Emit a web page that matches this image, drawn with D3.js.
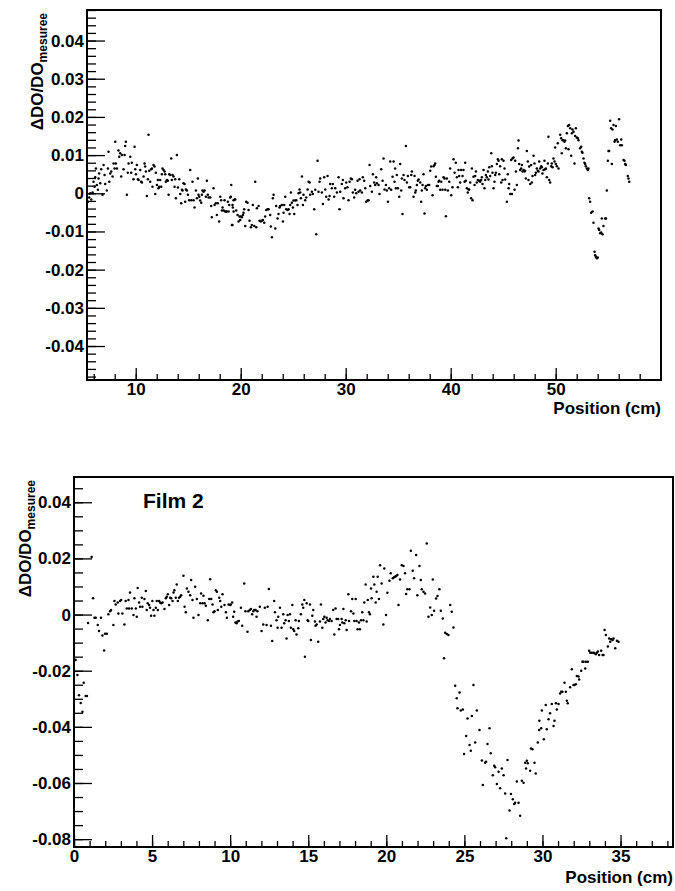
<!DOCTYPE html>
<html><head><meta charset="utf-8">
<script src="https://cdn.jsdelivr.net/npm/d3@7/dist/d3.min.js"></script>
<style>
html,body{margin:0;padding:0;background:#fff;}
svg{display:block;}
text{font-family:"Liberation Sans",Arial,Helvetica,sans-serif;font-weight:bold;fill:#000;}
</style></head>
<body>
<svg id="chart" width="675" height="891"></svg>
<script>
// ---------- DATA ----------
const film1Points = [
[5.44,-0.0022],[5.57,-0.0011],[5.76,-0.0016],[5.67,0.0000],[5.89,0.0002],[5.98,0.0030],[6.08,0.0017],[6.14,0.0042],[6.30,0.0022],[6.40,0.0009],[6.46,0.0039],[6.21,0.0065],[6.52,0.0052],[6.62,0.0026],[6.71,0.0063],[6.84,-0.0004],[6.94,0.0074],[7.03,0.0048],[7.09,0.0024],[7.25,0.0007],[7.35,0.0065],[7.41,0.0109],[7.48,0.0030],[7.57,0.0052],[7.67,0.0057],[7.79,0.0044],[7.89,0.0078],[7.98,0.0065],[8.05,0.0135],[8.11,0.0078],[8.21,0.0065],[8.36,0.0112],[8.43,0.0096],[8.52,0.0105],[8.62,0.0044],[8.68,0.0100],[8.84,0.0063],[8.94,0.0100],[9.0,0.0124],[9.06,0.0135],[9.16,-0.0004],[9.25,0.0054],[9.32,0.0078],[9.48,0.0096],[9.57,0.0054],[9.63,0.0080],[9.79,0.0037],[9.89,0.0122],[9.95,0.0063],[10.02,0.0050],[10.11,0.0074],[10.21,0.0037],[10.27,0.0035],[10.43,0.0061],[10.52,0.0030],[10.59,0.0028],[10.75,0.0044],[10.84,0.0078],[10.90,0.0070],[10.97,0.0057],[11.06,-0.0007],[11.16,0.0037],[11.22,0.0153],[11.29,0.0059],[11.38,0.0030],[11.48,0.0063],[11.54,0.0065],[11.60,0.0017],[11.70,0.0074],[11.79,0.0070],[11.86,-0.0002],[11.92,0.0054],[12.02,0.0022],[12.11,0.0035],[12.17,0.0013],[12.24,0.0017],[12.33,0.0035],[12.43,0.0017],[12.49,0.0050],[12.55,0.0065],[12.65,0.0061],[12.75,0.0057],[12.81,0.0050],[12.87,0.0030],[12.97,0.0035],[13.06,0.0033],[13.13,-0.0004],[13.19,0.0050],[13.29,0.0048],[13.38,0.0091],[13.44,0.0035],[13.51,0.0048],[13.60,0.0044],[13.70,0.0017],[13.76,0.0037],[13.83,-0.0013],[13.92,0.0100],[14.02,0.0015],[14.14,0.0037],[14.24,-0.0002],[14.33,-0.0026],[14.40,0.0009],[14.46,0.0007],[14.55,0.0026],[14.65,0.0024],[14.71,-0.0022],[14.78,0.0010],[14.87,0.0007],[14.97,-0.0004],[15.09,-0.0018],[15.19,0.0061],[15.29,-0.0018],[15.41,0.0030],[15.51,-0.0018],[15.60,-0.0037],[15.73,0.0007],[15.83,-0.0013],[15.92,0.0039],[15.98,-0.0004],[16.05,-0.0009],[16.14,-0.0019],[16.24,-0.0025],[16.30,-0.0004],[16.36,0.0007],[16.46,0.0004],[16.56,0.0007],[16.68,-0.0009],[16.78,0.0033],[16.87,-0.0004],[16.94,-0.0011],[17.10,-0.0011],[17.19,-0.0033],[17.25,-0.0063],[17.41,0.0013],[17.51,-0.0031],[17.63,-0.0026],[17.73,-0.0057],[17.82,-0.0026],[17.95,-0.0074],[18.05,-0.0009],[18.14,-0.0018],[18.21,-0.0045],[18.27,-0.0037],[18.37,-0.0045],[18.46,-0.0018],[18.52,-0.0048],[18.59,-0.0048],[18.68,-0.0048],[18.78,-0.0022],[18.84,-0.0048],[18.90,-0.0031],[19.0,-0.0011],[19.10,0.0022],[19.16,-0.0083],[19.22,-0.0031],[19.32,-0.0018],[19.41,-0.0016],
[19.06,-0.0009],[19.25,-0.0037],[19.48,-0.0016],[19.32,-0.0048],[19.57,-0.0045],[19.70,-0.0057],[19.22,-0.0083],[19.79,-0.0074],[19.89,-0.0061],[19.95,-0.0070],[20.02,-0.0061],[20.11,-0.0063],[20.21,-0.0057],[20.27,-0.0051],[20.33,-0.0042],[20.43,-0.0086],[20.52,-0.0022],[20.65,-0.0025],[20.75,-0.0044],[20.84,-0.0072],[20.97,-0.0089],[21.06,-0.0083],[21.16,-0.0031],[21.29,-0.0086],[21.38,0.0030],[21.48,-0.0089],[21.54,-0.0039],[21.70,-0.0033],[21.79,-0.0072],[21.92,-0.0074],[22.02,-0.0072],[22.11,-0.0070],[22.24,-0.0077],[22.33,-0.0061],[22.43,-0.0044],[22.56,-0.0042],[22.65,-0.0042],[22.81,-0.0057],[22.87,-0.0087],[22.97,-0.0115],[23.06,-0.0013],[23.13,-0.0004],[23.29,-0.0092],[23.38,-0.0033],[23.51,-0.0066],[23.60,-0.0054],[23.70,-0.0037],[23.76,-0.0033],[23.92,-0.0031],[24.02,-0.0074],[24.08,-0.0051],[24.14,-0.0031],[24.24,-0.0009],[24.33,-0.0042],[24.46,-0.0044],[24.56,-0.0042],[24.65,-0.0054],[24.71,-0.0031],[24.78,0.0002],[24.87,-0.0025],[24.97,-0.0037],[25.03,-0.0019],[25.10,-0.0054],[25.19,-0.0019],[25.29,-0.0018],[25.41,-0.0031],[25.51,0.0000],[25.60,0.0010],[25.67,0.0002],[25.73,-0.0013],[25.83,0.0044],[25.92,-0.0031],[25.98,-0.0004],[26.14,-0.0018],[26.24,-0.0011],[26.37,0.0010],[26.46,0.0030],[26.56,0.0028],[26.62,-0.0004],[26.78,0.0004],[26.87,-0.0002],[27.0,-0.0042],[27.10,0.0009],[27.19,-0.0107],[27.32,0.0085],[27.41,0.0004],[27.51,0.0030],[27.57,0.0039],[27.73,0.0002],[27.83,-0.0028],[27.95,0.0042],[28.05,0.0010],[28.14,-0.0009],[28.27,0.0045],[28.37,-0.0016],[28.46,-0.0007],[28.52,0.0024],[28.68,0.0013],[28.78,0.0024],[28.90,-0.0009],[29.0,0.0013],[29.16,0.0002],[29.32,0.0042],[29.41,-0.0042],[29.48,0.0004],[29.63,0.0024],[29.73,0.0035],[29.79,-0.0013],[29.95,0.0013],[30.05,0.0028],[30.17,0.0016],[30.27,-0.0018],[30.37,0.0030],[30.49,0.0039],[30.59,0.0037],[30.68,0.0002],[30.81,-0.0011],[30.90,0.0009],[31.0,0.0000],[31.13,0.0033],[31.22,0.0004],[31.32,0.0037],[31.38,0.0007],[31.54,0.0002],[31.63,0.0042],[31.76,0.0033],[31.86,0.0013],[31.95,-0.0022],[32.08,-0.0019],[32.17,-0.0018],[32.27,0.0074],[32.33,0.0019],[32.49,0.0004],[32.59,0.0050],[32.71,0.0028],[32.81,0.0022],[32.90,0.0042],[32.97,0.0026],[33.13,0.0022],[33.22,-0.0002],
[33.38,0.0063],[33.51,0.0033],[33.60,0.0091],[33.70,0.0010],[33.83,0.0022],[33.92,0.0007],[34.02,-0.0022],[34.14,0.0013],[34.24,0.0083],[34.33,0.0009],[34.46,0.0043],[34.56,0.0083],[34.65,0.0030],[34.71,0.0065],[34.78,0.0013],[34.87,0.0048],[34.97,0.0013],[35.10,-0.0009],[35.19,0.0077],[35.29,0.0007],[35.35,0.0039],[35.41,-0.0054],[35.51,0.0048],[35.60,0.0035],[35.73,0.0124],[35.83,0.0028],[35.92,0.0045],[36.05,0.0016],[36.14,0.0016],[36.24,0.0048],[36.30,0.0057],[36.46,-0.0009],[36.56,0.0045],[36.62,0.0002],[36.68,0.0007],[36.78,0.0022],[36.87,0.0033],[36.94,0.0036],[37.10,0.0028],[37.19,-0.0022],[37.25,0.0007],[37.32,0.0022],[37.41,0.0050],[37.51,-0.0053],[37.57,0.0013],[37.63,0.0019],[37.73,0.0009],[37.83,0.0022],[37.95,0.0022],[38.05,0.0059],[38.14,0.0070],[38.27,-0.0005],[38.37,0.0071],[38.46,0.0074],[38.52,0.0078],[38.59,0.0043],[38.68,0.0019],[38.78,0.0019],[38.84,0.0030],[38.90,0.0033],[39.0,0.0009],[39.10,0.0030],[39.22,0.0009],[39.32,0.0042],[39.41,0.0039],[39.48,0.0009],[39.54,-0.0060],[39.63,0.0039],[39.73,0.0007],[39.86,0.0030],[39.95,0.0065],[40.05,-0.0005],[40.17,0.0016],[40.27,0.0089],[40.37,0.0054],[40.49,0.0080],[40.59,0.0042],[40.68,0.0016],[40.75,0.0061],[40.81,0.0045],[40.90,0.0028],[41.0,0.0061],[41.13,0.0045],[41.22,0.0061],[41.32,0.0030],[41.38,0.0080],[41.44,0.0033],[41.54,0.0013],[41.63,0.0002],[41.70,0.0010],[41.76,0.0010],[41.86,0.0028],[41.95,-0.0013],[42.02,0.0065],[42.08,-0.0018],[42.17,0.0043],[42.27,0.0022],[42.33,0.0045],[42.40,0.0057],[42.49,0.0028],[42.59,0.0035],[42.71,0.0033],[42.81,0.0030],[42.90,0.0035],[42.97,0.0042],[43.03,0.0024],[43.13,0.0061],[43.22,0.0013],[43.29,0.0035],[43.35,0.0048],[43.44,0.0042],[43.54,0.0057],[43.60,0.0036],[43.67,0.0068],[43.76,0.0045],[43.86,0.0105],[43.92,0.0071],[43.98,0.0054],[44.08,0.0013],[44.17,0.0030],[44.24,0.0048],[44.30,0.0054],[44.40,0.0077],[44.49,0.0089],[44.56,0.0085],[44.62,0.0050],[44.71,0.0071],[44.81,0.0028],[44.87,0.0089],[44.94,0.0035],[45.03,0.0085],[45.13,0.0065],[45.19,0.0036],[45.35,-0.0022],[45.44,0.0050],[45.51,0.0013],[45.57,0.0024],[45.67,-0.0002],[45.76,0.0087],[45.83,-0.0002],[45.89,0.0091],[45.98,0.0094],[46.08,0.0009],[46.14,0.0085],[46.21,0.0057],[46.30,0.0022],[46.40,0.0118],[46.46,0.0138],[46.52,0.0077],[46.62,0.0061],[46.71,0.0065],[46.78,0.0074],[46.84,0.0057],[46.94,0.0061],[47.03,0.0057],
[47.09,0.0059],[47.16,0.0039],[47.25,0.0111],[47.35,0.0083],[47.41,0.0035],[47.47,0.0070],[47.57,0.0024],[47.66,0.0074],[47.73,0.0028],[47.79,0.0045],[47.89,0.0098],[47.98,0.0078],[48.04,0.0048],[48.11,0.0054],[48.20,0.0065],[48.30,0.0059],[48.36,0.0057],[48.43,0.0083],[48.52,0.0065],[48.62,0.0071],[48.68,0.0068],[48.74,0.0052],[48.84,0.0061],[48.93,0.0085],[49.0,0.0063],[49.06,0.0065],[49.16,0.0042],[49.25,0.0078],[49.31,0.0148],[49.38,0.0035],[49.47,0.0028],[49.57,0.0071],[49.63,0.0078],[49.70,0.0068],[49.79,0.0091],[49.89,0.0083],[49.95,0.0120],[50.01,0.0077],[50.11,0.0071],[50.20,0.0131],[50.27,0.0065],[50.43,0.0153],[50.52,0.0144],[50.58,0.0105],[50.65,0.0139],[50.74,0.0139],[50.84,0.0135],[50.90,0.0138],[50.97,0.0118],[51.06,0.0157],[51.16,0.0176],[51.22,0.0115],[51.28,0.0179],[51.38,0.0170],[51.47,0.0098],[51.54,0.0157],[51.60,0.0167],[51.70,0.0161],[51.79,0.0078],[51.85,0.0150],[51.92,0.0170],[52.01,0.0146],[52.11,0.0144],[52.17,0.0139],[52.33,0.0118],[52.43,0.0122],[52.49,0.0109],[52.55,0.0106],[52.65,0.0091],[52.74,0.0080],[52.81,0.0077],[52.87,0.0071],[52.97,0.0065],[53.06,0.0061],[53.12,0.0065],[53.19,-0.0013],[53.28,-0.0022],[53.38,-0.0051],[53.51,-0.0048],[53.60,-0.0077],[53.70,-0.0153],[53.76,-0.0162],[53.82,-0.0166],[53.92,-0.0170],[54.01,-0.0168],[54.08,-0.0092],[54.14,-0.0096],[54.24,-0.0105],[54.33,-0.0103],[54.39,-0.0066],[54.46,-0.0107],[54.55,-0.0086],[54.71,-0.0066],[54.78,-0.0066],[54.87,0.0007],[54.97,0.0085],[55.03,0.0111],[55.09,0.0111],[55.19,0.0190],[55.28,0.0170],[55.35,0.0077],[55.41,0.0167],[55.50,0.0179],[55.60,0.0135],[55.66,0.0139],[55.73,0.0176],[55.82,0.0141],[55.92,0.0135],[56.04,0.0194],[56.14,0.0126],[56.24,0.0141],[56.30,0.0126],[56.46,0.0087],[56.55,0.0085],[56.62,0.0077],[56.68,0.0074],[56.87,0.0045],[56.93,0.0039],[57.0,0.0030]
];

const film2Points = [
[0.11,-0.0162],[0.22,-0.0215],[0.32,-0.0287],[0.43,-0.0315],[0.54,-0.0346],[0.62,-0.0243],[0.75,-0.0290],[0.83,-0.0290],[0.90,-0.0030],[1.13,0.0205],[1.22,0.0058],
[1.31,-0.0011],[1.39,-0.0011],[1.52,-0.0037],[1.60,-0.0059],[1.73,-0.0011],[1.82,-0.0075],[1.93,-0.0128],[1.99,-0.0068],[2.10,-0.0068],[2.20,0.0001],[2.31,0.0012],[2.37,0.0016],[2.52,-0.0037],[2.59,0.0048],[2.67,0.0036],[2.80,0.0043],[2.84,0.0004],[2.95,0.0048],[3.02,0.0052],[3.10,0.0004],[3.23,-0.0035],[3.31,0.0048],[3.38,0.0022],[3.49,0.0052],[3.53,0.0022],[3.59,0.0079],[3.70,0.0022],[3.81,-0.0002],[3.87,0.0058],[3.96,0.0022],[4.02,-0.0008],[4.08,0.0095],[4.17,0.0043],[4.23,0.0028],[4.34,0.0060],[4.38,0.0028],[4.51,0.0055],[4.60,0.0084],[4.66,0.0016],[4.72,0.0040],[4.81,0.0034],[4.87,0.0024],[4.94,-0.0004],[5.02,0.0048],[5.09,0.0016],[5.15,-0.0004],[5.24,0.0024],[5.30,0.0048],[5.37,0.0016],[5.45,0.0048],[5.52,0.0043],[5.58,0.0040],[5.67,0.0043],[5.79,0.0020],[5.88,0.0058],[5.94,0.0063],[6.01,0.0072],[6.09,0.0034],[6.16,0.0060],[6.22,0.0058],[6.31,0.0048],[6.37,0.0079],[6.43,0.0087],[6.52,0.0060],[6.58,0.0107],[6.65,0.0048],[6.73,0.0060],[6.80,0.0063],[6.86,0.0069],[7.01,0.0138],[7.08,0.0028],[7.16,0.0008],[7.23,0.0093],[7.33,0.0081],[7.44,0.0069],[7.50,0.0123],[7.59,0.0052],[7.65,-0.0011],[7.76,0.0099],[7.87,0.0055],[7.97,-0.0002],[8.08,0.0040],[8.14,0.0075],[8.23,0.0040],[8.29,0.0067],[8.36,0.0040],[8.44,0.0031],[8.57,-0.0020],[8.66,0.0055],[8.72,0.0126],[8.79,0.0055],[8.87,0.0036],[8.93,0.0008],[9.0,0.0012],[9.08,0.0087],[9.15,0.0081],[9.21,0.0016],[9.30,0.0060],[9.36,0.0048],[9.43,0.0028],[9.51,0.0072],[9.64,0.0034],[9.73,0.0008],[9.79,-0.0011],[9.90,0.0036],[10.0,0.0034],
[10.04,0.0036],[10.13,0.0043],[10.19,-0.0008],[10.26,0.0010],[10.34,-0.0028],[10.41,-0.0031],[10.47,-0.0025],[10.56,-0.0023],[10.69,0.0024],[10.77,-0.0040],[10.90,0.0111],[10.98,0.0012],[11.11,-0.0061],[11.16,0.0012],[11.26,0.0016],[11.33,0.0020],[11.41,0.0001],[11.48,0.0012],[11.54,0.0016],[11.63,0.0016],[11.69,-0.0008],[11.75,0.0012],[11.90,0.0028],[12.01,-0.0059],[12.12,-0.0035],[12.22,0.0024],[12.33,-0.0037],[12.40,0.0028],[12.48,0.0091],[12.61,-0.0040],[12.69,-0.0094],[12.82,0.0048],[12.87,0.0008],[12.97,-0.0020],[13.04,-0.0047],[13.08,-0.0008],[13.19,0.0024],[13.29,-0.0047],[13.40,0.0001],[13.46,-0.0031],[13.55,-0.0020],[13.61,-0.0085],[13.68,-0.0002],[13.76,-0.0023],[13.83,0.0001],[13.89,-0.0047],[13.98,0.0034],[14.04,-0.0052],[14.10,-0.0059],[14.19,-0.0020],[14.25,-0.0071],[14.36,-0.0049],[14.40,-0.0023],[14.53,0.0001],[14.62,0.0036],[14.68,0.0024],[14.75,0.0052],[14.79,-0.0150],[14.90,0.0040],[14.96,-0.0020],[15.0,-0.0023],[15.11,0.0036],[15.17,-0.0091],[15.26,-0.0004],[15.32,0.0016],[15.43,-0.0025],[15.47,-0.0040],[15.54,-0.0035],[15.64,-0.0097],[15.75,-0.0025],[15.81,0.0036],[15.90,-0.0047],[15.96,-0.0016],[16.03,-0.0008],[16.11,-0.0028],[16.18,-0.0011],[16.24,-0.0020],[16.33,-0.0023],[16.39,-0.0016],[16.50,-0.0023],[16.60,0.0016],[16.67,-0.0071],[16.75,0.0022],[16.82,-0.0016],[16.92,-0.0016],[16.97,-0.0052],[17.03,-0.0037],[17.14,-0.0016],[17.18,-0.0028],[17.25,0.0020],[17.31,-0.0031],[17.40,-0.0020],[17.46,-0.0055],[17.57,0.0072],[17.61,-0.0023],[17.74,0.0012],[17.82,0.0055],[17.89,0.0004],[17.95,-0.0023],[18.04,0.0055],[18.10,-0.0023],[18.16,-0.0052],[18.25,-0.0028],[18.31,-0.0052],[18.38,-0.0020],[18.46,0.0008],[18.53,-0.0020],[18.59,0.0043],[18.68,0.0107],[18.74,-0.0025],[18.81,0.0052],[18.89,0.0008],[18.95,0.0001],[19.02,0.0093],[19.06,0.0058],[19.17,0.0135],[19.23,0.0107],[19.32,0.0043],[19.38,0.0081],[19.45,0.0135],[19.53,0.0055],[19.60,0.0176],[19.70,0.0111],[19.81,-0.0035],[19.87,0.0164],
[19.98,-0.0002],[20.07,0.0078],[20.20,0.0120],[20.28,0.0147],[20.41,0.0129],[20.50,0.0133],[20.56,0.0135],[20.63,0.0137],[20.71,0.0141],[20.78,0.0034],[20.88,0.0125],[20.99,0.0176],[21.10,0.0173],[21.20,0.0147],[21.27,0.0073],[21.35,0.0090],[21.48,0.0090],[21.57,0.0227],[21.69,0.0156],[21.78,0.0129],[21.91,0.0212],[21.99,0.0069],[22.12,0.0173],[22.21,0.0123],[22.27,0.0090],[22.38,0.0081],[22.48,0.0075],[22.59,0.0253],[22.70,-0.0008],[22.81,0.0025],[22.91,-0.0002],[22.98,0.0125],[23.06,0.0014],[23.19,0.0057],[23.28,0.0066],[23.40,0.0090],[23.49,0.0014],[23.62,-0.0014],[23.70,-0.0156],[23.77,-0.0065],[23.87,-0.0069],[23.98,-0.0073],[24.09,0.0034],[24.19,0.0010],[24.30,-0.0046],[24.41,-0.0254],[24.51,-0.0298],[24.56,-0.0334],[24.69,-0.0278],[24.77,-0.0342],[24.90,-0.0338],[24.98,-0.0497],[25.11,-0.0433],[25.20,-0.0370],[25.33,-0.0465],[25.41,-0.0485],[25.48,-0.0361],[25.58,-0.0251],[25.69,-0.0456],[25.80,-0.0342],[25.97,-0.0411],[26.12,-0.0520],[26.18,-0.0607],[26.33,-0.0528],[26.39,-0.0524],[26.48,-0.0461],[26.61,-0.0405],[26.69,-0.0494],[26.82,-0.0572],[26.91,-0.0539],[26.97,-0.0544],[27.08,-0.0604],[27.19,-0.0560],[27.29,-0.0619],[27.40,-0.0548],[27.51,-0.0572],[27.61,-0.0637],[27.68,-0.0797],[27.76,-0.0518],[27.89,-0.0698],[27.98,-0.0639],[28.10,-0.0658],[28.19,-0.0675],[28.25,-0.0670],[28.36,-0.0595],[28.47,-0.0670],[28.57,-0.0717],[28.68,-0.0592],[28.79,-0.0599],
[28.89,-0.0528],[29.0,-0.0521],[29.06,-0.0530],[28.95,-0.0548],[29.21,-0.0556],[29.49,-0.0528],[29.57,-0.0566],[29.27,-0.0477],[29.36,-0.0480],[29.70,-0.0456],[29.79,-0.0411],[29.92,-0.0405],[30.09,-0.0444],[30.28,-0.0409],[29.80,-0.0378],[29.96,-0.0342],[30.21,-0.0322],[30.39,-0.0373],[30.49,-0.0352],[30.60,-0.0319],[30.71,-0.0397],[30.77,-0.0378],[30.86,-0.0316],[30.92,-0.0338],[31.03,-0.0319],[31.13,-0.0281],[31.20,-0.0275],[31.28,-0.0275],[31.41,-0.0243],[31.50,-0.0275],[31.56,-0.0307],[31.62,-0.0316],[31.77,-0.0259],[31.88,-0.0195],[31.99,-0.0251],[32.05,-0.0251],[32.14,-0.0248],[32.20,-0.0219],[32.31,-0.0221],[32.35,-0.0231],[32.48,-0.0200],[32.56,-0.0168],[32.63,-0.0168],[32.74,-0.0192],[32.78,-0.0168],[32.91,-0.0168],[32.99,-0.0129],[33.06,-0.0136],[33.16,-0.0136],[33.27,-0.0136],[33.33,-0.0138],[33.42,-0.0141],[33.48,-0.0136],[33.55,-0.0132],[33.63,-0.0144],[33.76,-0.0129],[33.85,-0.0144],[33.91,-0.0144],[33.98,-0.0055],[34.06,-0.0073],[34.19,-0.0114],[34.27,-0.0085],[34.34,-0.0097],[34.40,-0.0088],[34.49,-0.0091],[34.55,-0.0085],[34.66,-0.0120],[34.77,-0.0093],[34.87,-0.0097]
];

const topXDomain = [5.36, 60.03];
const topYDomain = [-0.0489, 0.048];
const topXMajor = [10, 20, 30, 40, 50];
const topXMajorLabels = ["10", "20", "30", "40", "50"];
const topYMajor = [-0.04, -0.03, -0.02, -0.01, 0, 0.01, 0.02, 0.03, 0.04];
const topYMajorLabels = ["-0.04", "-0.03", "-0.02", "-0.01", "0", "0.01", "0.02", "0.03", "0.04"];

const botXDomain = [0, 38.36];
const botYDomain = [-0.0828, 0.049];
const botXMajor = [0, 5, 10, 15, 20, 25, 30, 35];
const botXMajorLabels = ["0", "5", "10", "15", "20", "25", "30", "35"];
const botYMajor = [-0.08, -0.06, -0.04, -0.02, 0, 0.02, 0.04];
const botYMajorLabels = ["-0.08", "-0.06", "-0.04", "-0.02", "0", "0.02", "0.04"];

const xTitle = "Position (cm)";
const yTitleMain = "\u0394DO/DO";
const yTitleSub = "mesuree";
const film2Label = "Film 2";

// ---------- DRAW ----------
const svg = d3.select("#chart");

function minorTicks(domain, step) {
  const out = [];
  const start = Math.ceil(domain[0] / step - 1e-9);
  const end = Math.floor(domain[1] / step + 1e-9);
  for (let i = start; i <= end; i++) out.push(+(i * step).toFixed(6));
  return out;
}

function drawPanel(cfg) {
  const g = svg.append("g");
  const x = d3.scaleLinear().domain(cfg.xDomain).range([cfg.left, cfg.right]);
  const y = d3.scaleLinear().domain(cfg.yDomain).range([cfg.bottom, cfg.top]);
  const H = cfg.bottom - cfg.top, W = cfg.right - cfg.left;

  const xMinor = g.append("g").attr("transform", `translate(0,${cfg.bottom})`)
    .call(d3.axisBottom(x).tickValues(minorTicks(cfg.xDomain, cfg.xMinorStep)).tickSize(-6).tickFormat(""));
  const yMinor = g.append("g").attr("transform", `translate(${cfg.left},0)`)
    .call(d3.axisLeft(y).tickValues(minorTicks(cfg.yDomain, cfg.yMinorStep)).tickSize(-9).tickFormat(""));

  const xAx = g.append("g").attr("transform", `translate(0,${cfg.bottom})`)
    .call(d3.axisBottom(x).tickValues(cfg.xMajor).tickSize(-12).tickPadding(cfg.xPad)
      .tickFormat((d, i) => cfg.xLabels[i]));
  const yAx = g.append("g").attr("transform", `translate(${cfg.left},0)`)
    .call(d3.axisLeft(y).tickValues(cfg.yMajor).tickSize(-18).tickPadding(3)
      .tickFormat((d, i) => cfg.yLabels[i]));

  [xMinor, yMinor, xAx, yAx].forEach(a => {
    a.select(".domain").remove();
    a.selectAll("line").attr("stroke", "#000").attr("stroke-width", 1.3);
    a.selectAll("text").attr("font-family", null).attr("font-size", 17).attr("fill", "#000");
  });

  g.append("g").selectAll("circle").data(cfg.points).join("circle")
    .attr("cx", d => x(d[0])).attr("cy", d => y(d[1])).attr("r", 1.25).attr("fill", "#000");

  g.append("rect").attr("x", cfg.left).attr("y", cfg.top).attr("width", W).attr("height", H)
    .attr("fill", "none").attr("stroke", "#000").attr("stroke-width", 2);

  g.append("text").attr("x", cfg.right).attr("y", cfg.xTitleY).attr("text-anchor", "end")
    .attr("font-size", 17).text(xTitle);

  const yt = g.append("text").attr("text-anchor", "end")
    .attr("transform", `translate(${cfg.yTitleX},${cfg.top + 3}) rotate(-90)`);
  yt.append("tspan").attr("font-size", 17).text(yTitleMain);
  yt.append("tspan").attr("font-size", 12).attr("dy", 4).text(yTitleSub);
  return {x, y, g};
}

drawPanel({
  left: 87, right: 661, top: 10, bottom: 380,
  xDomain: topXDomain, yDomain: topYDomain,
  xMajor: topXMajor, xLabels: topXMajorLabels, xMinorStep: 2,
  yMajor: topYMajor, yLabels: topYMajorLabels, yMinorStep: 0.002,
  xPad: 3, xTitleY: 414, yTitleX: 43,
  points: film1Points
});

const p2 = drawPanel({
  left: 74, right: 673, top: 477, bottom: 847,
  xDomain: botXDomain, yDomain: botYDomain,
  xMajor: botXMajor, xLabels: botXMajorLabels, xMinorStep: 1,
  yMajor: botYMajor, yLabels: botYMajorLabels, yMinorStep: 0.005,
  xPad: 3, xTitleY: 883, yTitleX: 31,
  points: film2Points
});

p2.g.append("text").attr("x", 143).attr("y", 508).attr("font-size", 21).text(film2Label);
</script>
</body></html>
